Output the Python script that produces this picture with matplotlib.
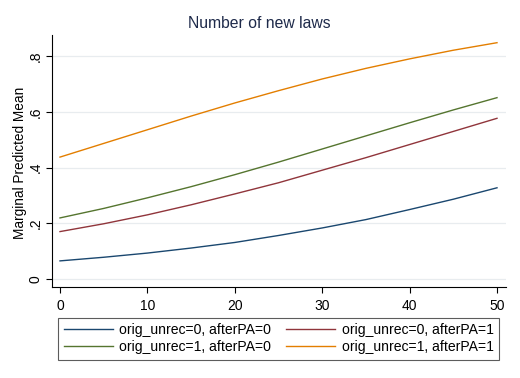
import matplotlib
matplotlib.use("Agg")
import matplotlib.pyplot as plt

plt.rcParams['font.family'] = ['Liberation Sans', 'DejaVu Sans']

x = [0, 5, 10, 15, 20, 25, 30, 35, 40, 45, 50]
s00 = [0.066, 0.079, 0.094, 0.112, 0.132, 0.157, 0.184, 0.214, 0.250, 0.287, 0.328]
s01 = [0.171, 0.199, 0.231, 0.267, 0.306, 0.346, 0.391, 0.436, 0.483, 0.530, 0.577]
s10 = [0.220, 0.254, 0.292, 0.332, 0.375, 0.420, 0.467, 0.514, 0.561, 0.607, 0.651]
s11 = [0.438, 0.487, 0.536, 0.585, 0.632, 0.676, 0.718, 0.756, 0.790, 0.821, 0.848]
labels = ["orig_unrec=0, afterPA=0", "orig_unrec=1, afterPA=0",
          "orig_unrec=0, afterPA=1", "orig_unrec=1, afterPA=1"]
xticks = [0, 10, 20, 30, 40, 50]
yticks = [0, 0.2, 0.4, 0.6, 0.8]
yticklabels = ["0", ".2", ".4", ".6", ".8"]
title = "Number of new laws"
ylabel = "Marginal Predicted Mean"

fig = plt.figure(figsize=(5.2, 3.78), dpi=100)
ax = fig.add_axes([52/520, 1-287/378, 454/520, 252/378])

l1, = ax.plot(x, s00, color='#1a476f', lw=1.0)
l3, = ax.plot(x, s01, color='#90353b', lw=1.0)
l2, = ax.plot(x, s10, color='#55752f', lw=1.0)
l4, = ax.plot(x, s11, color='#e37e00', lw=1.0)

ax.set_xlim(-0.915, 51.03)
ax.set_ylim(-0.0276, 0.8756)
ax.set_xticks(xticks)
ax.set_yticks(yticks)
ax.set_yticklabels(yticklabels, rotation=90, va='center')
ax.tick_params(axis='both', labelsize=10, length=4.5, width=0.8, color='black')
ax.tick_params(axis='x', pad=4)
ax.tick_params(axis='y', pad=2.2)
ax.grid(axis='y', color='#e8ecef', lw=0.9)
ax.set_axisbelow(True)
for s in ['top', 'right']:
    ax.spines[s].set_visible(False)
for s in ['left', 'bottom']:
    ax.spines[s].set_linewidth(0.8)
ax.set_ylabel(ylabel, fontsize=9.8)
ax.yaxis.set_label_coords((27.5 - 52) / 454, (287 - 162.5) / 252)
fig.text(259.5/520, 1-23.3/378, title, ha='center', va='center', fontsize=11.3, color='#1e2a4a')

leg = fig.legend([l1, l2, l3, l4], labels, ncol=2, loc='upper left',
                 bbox_to_anchor=(58/520, 0, 441/520, 1-317.7/378), mode='expand',
                 borderaxespad=0, fontsize=10.1, handlelength=3.5, handletextpad=0.45,
                 labelspacing=0.2, fancybox=False, frameon=True, borderpad=0.4)
leg.get_frame().set_edgecolor('#333333')
leg.get_frame().set_linewidth(0.8)

fig.savefig('out.png', dpi=100, facecolor='white')
